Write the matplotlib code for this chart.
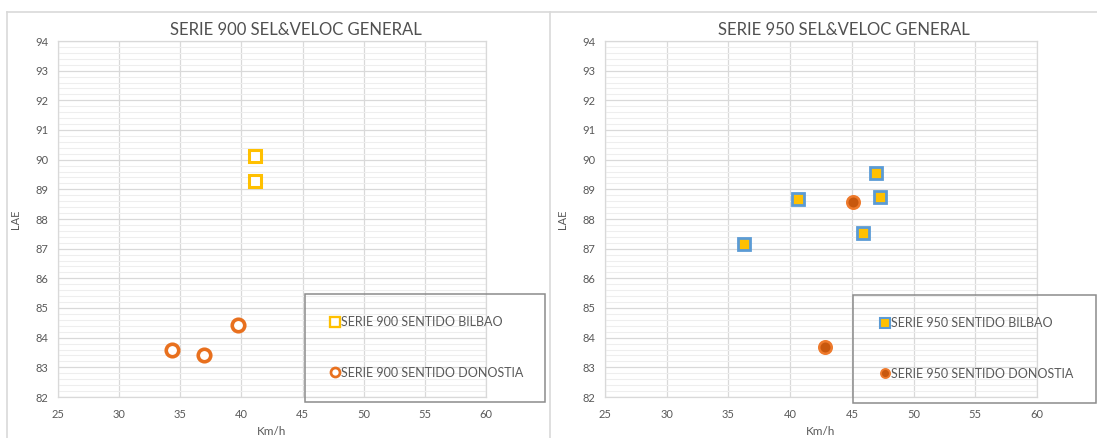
import matplotlib
matplotlib.use("Agg")
import matplotlib.pyplot as plt
from matplotlib.lines import Line2D
from matplotlib.patches import Rectangle
from matplotlib.ticker import MultipleLocator

# ---- data ----
s900_bilbao_x = [41.1, 41.1]
s900_bilbao_y = [90.14, 89.27]
s900_donostia_x = [34.3, 36.95, 39.7]
s900_donostia_y = [83.6, 83.42, 84.42]

s950_bilbao_x = [46.95, 47.3, 40.6, 45.9, 36.25]
s950_bilbao_y = [89.56, 88.74, 88.68, 87.53, 87.15]
s950_donostia_x = [45.1, 42.8]
s950_donostia_y = [88.57, 83.7]

titles = ["SERIE 900 SEL&VELOC GENERAL", "SERIE 950 SEL&VELOC GENERAL"]
labels900 = ["SERIE 900 SENTIDO BILBAO", "SERIE 900 SENTIDO DONOSTIA"]
labels950 = ["SERIE 950 SENTIDO BILBAO", "SERIE 950 SENTIDO DONOSTIA"]
x_label = "Km/h"
y_label = "LAE"

plt.rcParams['font.family'] = ['Lato', 'DejaVu Sans']

W, H = 1097, 438
fig = plt.figure(figsize=(W / 100, H / 100), dpi=100)

def fx(px):
    return px / W

def fy(py):
    return 1 - py / H

GRID_MAJ = "#D9D9D9"
GRID_MIN = "#EEEEEE"
TXT = "#595959"

def setup_axes(ax):
    ax.set_xlim(25, 60)
    ax.set_ylim(82, 94)
    ax.xaxis.set_major_locator(MultipleLocator(5))
    ax.yaxis.set_major_locator(MultipleLocator(1))
    ax.yaxis.set_minor_locator(MultipleLocator(0.2))
    ax.grid(which="major", color=GRID_MAJ, lw=0.9)
    ax.grid(which="minor", axis="y", color=GRID_MIN, lw=0.8)
    ax.set_axisbelow(True)
    for sp in ax.spines.values():
        sp.set_color(GRID_MAJ)
        sp.set_linewidth(0.9)
    ax.tick_params(which="both", length=0, labelsize=8, colors=TXT, pad=7)
    ax.tick_params(axis="x", pad=9)
    ax.set_xlabel(x_label, fontsize=8.5, color=TXT, labelpad=4)
    ax.set_ylabel(y_label, fontsize=8, color=TXT, labelpad=10)

# axes positions
ax1 = fig.add_axes([fx(58), fy(397), fx(486) - fx(58), fy(41) - fy(397)])
ax2 = fig.add_axes([fx(605), fy(397), fx(1037) - fx(605), fy(41) - fy(397)])
setup_axes(ax1)
setup_axes(ax2)

# left chart: hollow markers
h1 = ax1.plot(s900_bilbao_x, s900_bilbao_y, ls="none", marker="s", ms=8.5,
              mfc="white", mec="#FFC000", mew=2.2, label=labels900[0])[0]
h2 = ax1.plot(s900_donostia_x, s900_donostia_y, ls="none", marker="o", ms=9,
              mfc="white", mec="#E8701E", mew=2.6, label=labels900[1])[0]

# right chart: filled markers
h3 = ax2.plot(s950_bilbao_x, s950_bilbao_y, ls="none", marker="s", ms=9,
              mfc="#FFC000", mec="#5B9BD5", mew=2.0, label=labels950[0])[0]
h4 = ax2.plot(s950_donostia_x, s950_donostia_y, ls="none", marker="o", ms=9,
              mfc="#C8580E", mec="#EE7A2C", mew=1.8, label=labels950[1])[0]

# titles
fig.text(fx(296), fy(30), titles[0], ha="center", va="center", fontsize=12, color="#505050")
fig.text(fx(844), fy(30), titles[1], ha="center", va="center", fontsize=12, color="#505050")

# legend frames
fig.patches.append(Rectangle((fx(305), fy(402)), fx(545) - fx(305), fy(294) - fy(402),
                             transform=fig.transFigure, fill=False, ec="#8C8C8C", lw=1.1))
fig.patches.append(Rectangle((fx(853), fy(403)), fx(1096) - fx(853), fy(295) - fy(403),
                             transform=fig.transFigure, fill=False, ec="#8C8C8C", lw=1.1))

def make_legend(ax, handles, x0, yc, small):
    hs = []
    for h in handles:
        hs.append(Line2D([], [], ls="none", marker=h.get_marker(), ms=small,
                         mfc=h.get_markerfacecolor(), mec=h.get_markeredgecolor(),
                         mew=h.get_markeredgewidth() * 0.75, label=h.get_label()))
    leg = ax.legend(handles=hs, loc="center left", bbox_to_anchor=(fx(x0), fy(yc)),
                    bbox_transform=fig.transFigure, frameon=False, fontsize=9,
                    handlelength=0.7, handletextpad=0.1, labelspacing=3.05,
                    borderpad=0, borderaxespad=0, labelcolor=TXT)
    return leg

make_legend(ax1, [h1, h2], 331, 347.5, 6.5)
make_legend(ax2, [h3, h4], 881, 348.5, 6.5)

# outer chart frames
frame_c = "#D9D9D9"
fig.add_artist(Line2D([fx(7), fx(1097)], [fy(12), fy(12)], transform=fig.transFigure, color=frame_c, lw=1.2))
fig.add_artist(Line2D([fx(7), fx(7)], [fy(12), fy(438)], transform=fig.transFigure, color=frame_c, lw=1.2))
fig.add_artist(Line2D([fx(550), fx(550)], [fy(12), fy(438)], transform=fig.transFigure, color=frame_c, lw=1.2))

fig.savefig("out.png", dpi=100)
